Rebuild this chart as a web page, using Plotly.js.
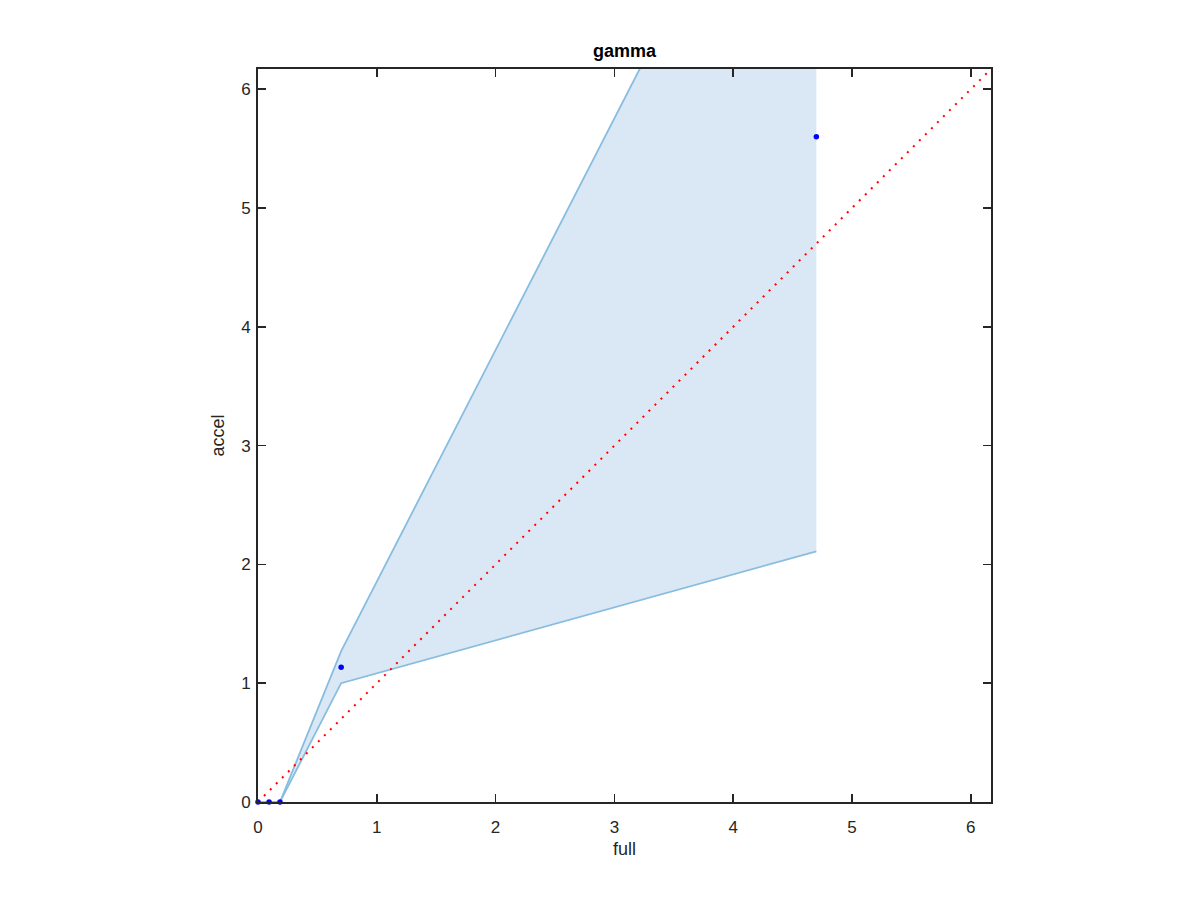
<!DOCTYPE html>
<html>
<head>
<meta charset="utf-8">
<script src="https://cdn.plot.ly/plotly-3.0.1.min.js"></script>
<style>html,body{margin:0;padding:0;background:#fff;}#chart{width:1200px;height:900px;}</style>
</head>
<body>
<div id="chart"></div>
<script>
const xFull = [0, 0.093, 0.185, 0.70, 4.70];
const yMean = [0, 0, 0, 1.135, 5.60];
const yUpper = [0, 0, 0, 1.27, 9.07];
const yLower = [0, 0, 0, 1.00, 2.11];
const diagX = [0, 6.2];
const diagY = [0, 6.2];
const tickVals = [0, 1, 2, 3, 4, 5, 6];

const bandX = xFull.concat(xFull.slice().reverse());
const bandY = yUpper.concat(yLower.slice().reverse());

const edge = '#88BDE0';
const FONT = 'Liberation Sans, Arial, sans-serif';
const traces = [
  {x: bandX, y: bandY, type: 'scatter', mode: 'lines', fill: 'toself',
   fillcolor: '#D9E8F4', line: {width: 0, color: 'rgba(0,0,0,0)'}, hoverinfo: 'skip', showlegend: false},
  {x: xFull, y: yUpper, type: 'scatter', mode: 'lines', line: {color: edge, width: 1.8}, showlegend: false},
  {x: xFull, y: yLower, type: 'scatter', mode: 'lines', line: {color: edge, width: 1.8}, showlegend: false},
  {x: diagX, y: diagY, type: 'scatter', mode: 'lines', line: {color: '#FF0000', width: 2, dash: '2px,6.5px'}, showlegend: false},
  {x: xFull, y: yMean, type: 'scatter', mode: 'markers', marker: {color: '#0000FF', size: 5.5}, cliponaxis: false, showlegend: false}
];

const axisCommon = {
  range: [0, 6.17], tickvals: tickVals, ticks: 'inside', ticklen: 8, tickcolor: '#262626', tickwidth: 1.5,
  showline: true, linecolor: '#262626', linewidth: 2, mirror: 'ticks', showgrid: false, zeroline: false,
  tickfont: {family: FONT, size: 17, color: '#262626'}
};

const layout = {
  width: 1200, height: 900,
  margin: {l: 258, r: 209, t: 69, b: 98},
  paper_bgcolor: '#fff', plot_bgcolor: '#fff',
  title: {text: '<b>gamma</b>', x: 0.5, xref: 'paper', y: 0.944, yanchor: 'middle',
          font: {family: FONT, size: 18, color: '#000'}},
  xaxis: Object.assign({}, axisCommon, {ticklabelstandoff: 9,
    title: {text: 'full', standoff: 6, font: {family: FONT, size: 18, color: '#262626'}}}),
  yaxis: Object.assign({}, axisCommon, {ticklabelstandoff: 2,
    title: {text: 'accel', standoff: 12, font: {family: FONT, size: 18, color: '#262626'}}}),
  showlegend: false
};

Plotly.newPlot('chart', traces, layout, {displayModeBar: false, staticPlot: true});
</script>
</body>
</html>
